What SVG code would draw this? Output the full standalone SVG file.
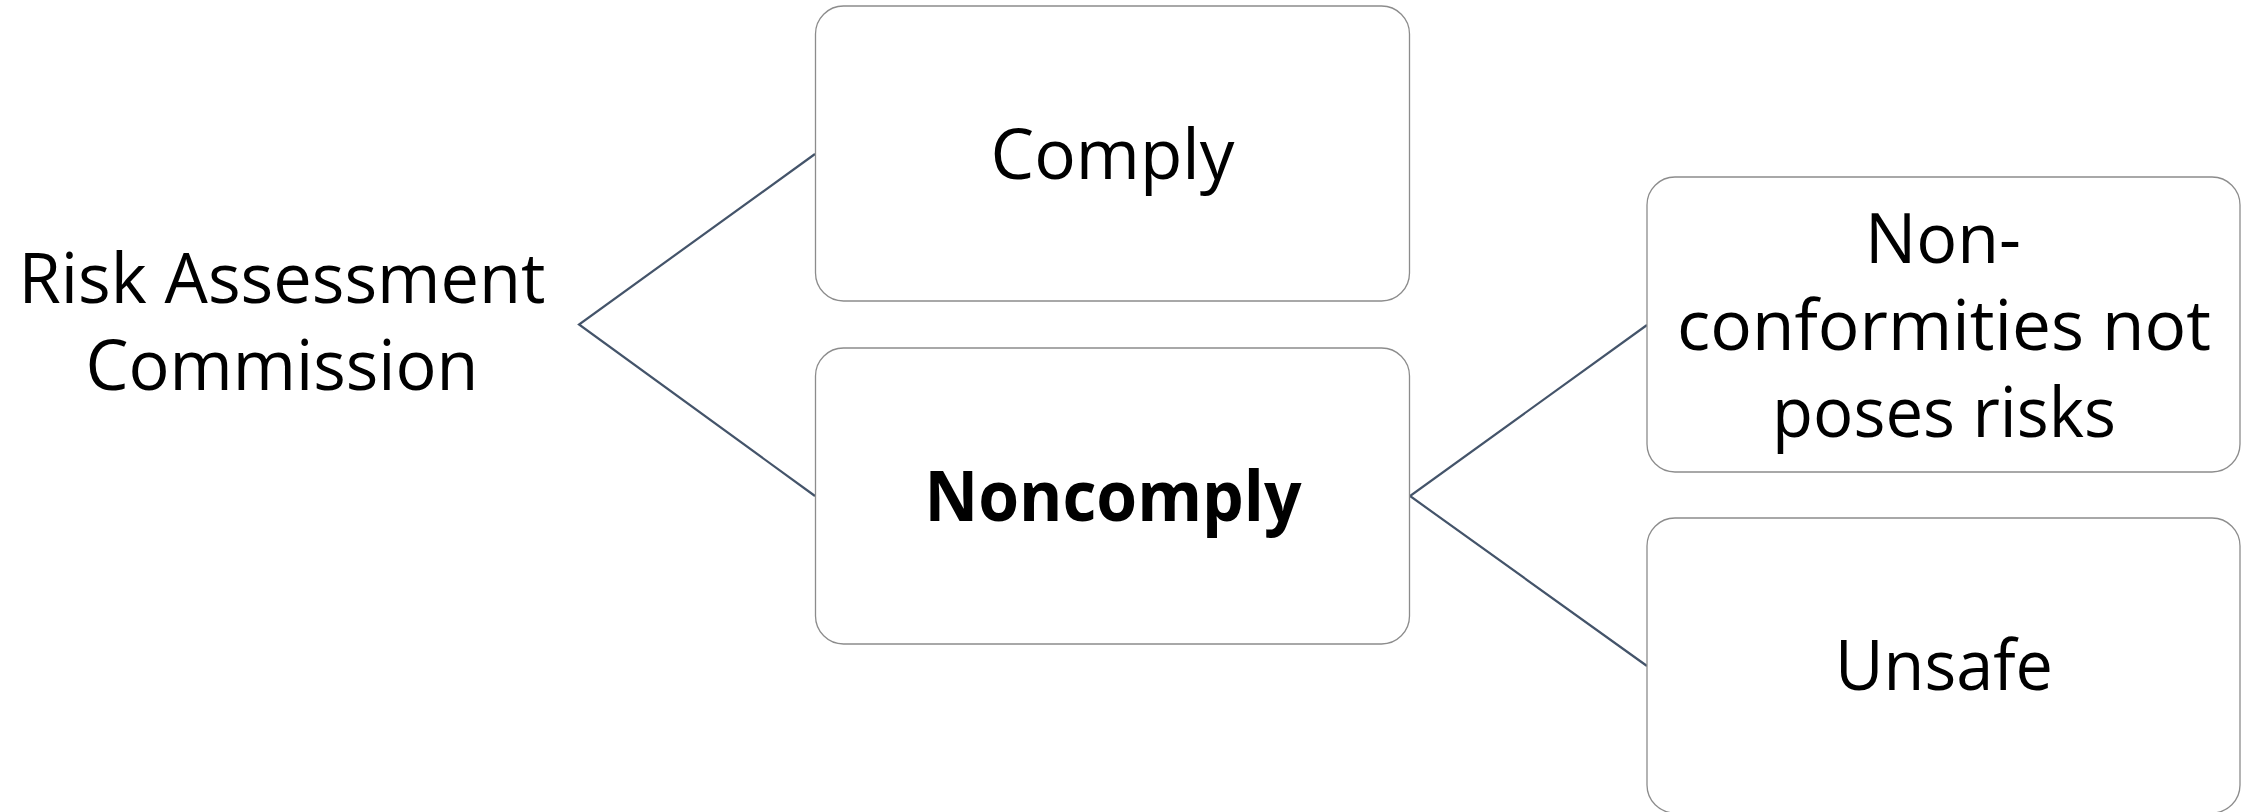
<svg xmlns="http://www.w3.org/2000/svg" width="2251" height="812" viewBox="0 0 2251 812">
<style>
.box{fill:#ffffff;stroke:#8c8c8c;stroke-width:1.3}
.conn{fill:none;stroke:#44546a;stroke-width:2.2;stroke-linejoin:miter}
.t{font-family:"Open Sans","Liberation Sans",sans-serif;font-size:70px;fill:#000000;text-anchor:middle}
.b{font-weight:bold}
</style>
<rect width="2251" height="812" fill="#ffffff"/>
<g id="connectors">
<polyline class="conn" points="815,154 579,324.5 815,496"/>
<polyline class="conn" points="1647,325 1410,496 1647,666"/>
</g>
<g id="root">
<text class="t" x="282" y="303" textLength="527" lengthAdjust="spacingAndGlyphs">Risk Assessment</text>
<text class="t" x="282" y="390" textLength="393" lengthAdjust="spacingAndGlyphs">Commission</text>
</g>
<g id="comply">
<rect class="box" x="815.5" y="6" width="594" height="295" rx="28"/>
<text class="t" x="1112.5" y="179" textLength="244" lengthAdjust="spacingAndGlyphs">Comply</text>
</g>
<g id="noncomply">
<rect class="box" x="815.5" y="348" width="594" height="296" rx="28"/>
<text class="t b" x="1113" y="521" textLength="377" lengthAdjust="spacingAndGlyphs">Noncomply</text>
</g>
<g id="nonconformities">
<rect class="box" x="1647" y="177" width="593" height="295" rx="28"/>
<text class="t" x="1943" y="263" textLength="156" lengthAdjust="spacingAndGlyphs">Non-</text>
<text class="t" x="1944" y="350" textLength="534" lengthAdjust="spacingAndGlyphs">conformities not</text>
<text class="t" x="1944" y="437" textLength="344" lengthAdjust="spacingAndGlyphs">poses risks</text>
</g>
<g id="unsafe">
<rect class="box" x="1647" y="518" width="593" height="295" rx="28"/>
<text class="t" x="1944" y="690" textLength="218" lengthAdjust="spacingAndGlyphs">Unsafe</text>
</g>
</svg>
